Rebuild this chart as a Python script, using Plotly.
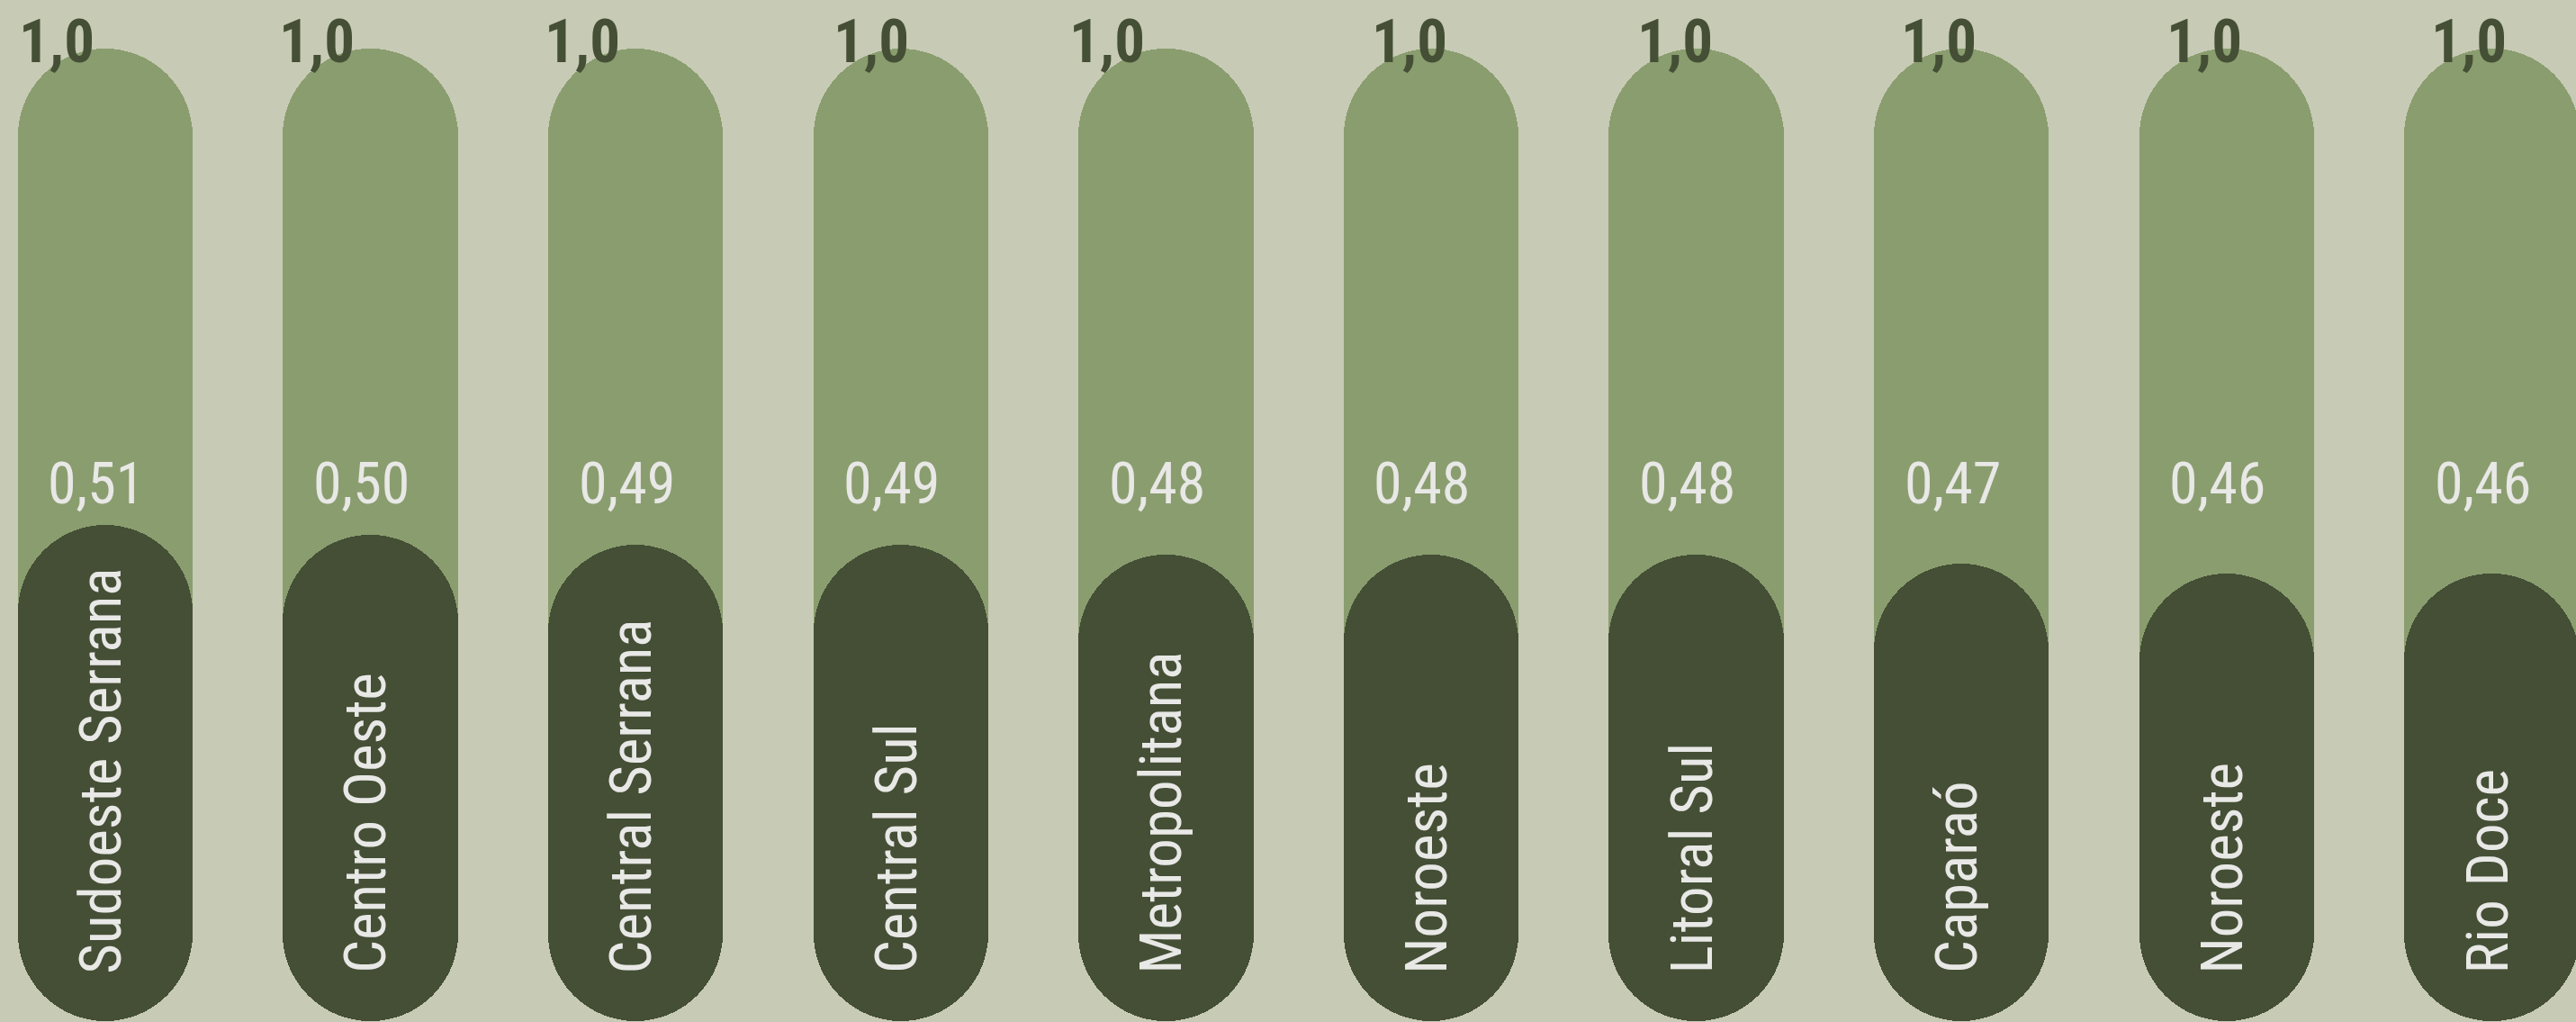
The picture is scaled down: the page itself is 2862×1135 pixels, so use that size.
import plotly.graph_objects as go

# ---- data ----
regions = ["Sudoeste Serrana", "Centro Oeste", "Central Serrana", "Central Sul",
           "Metropolitana", "Noroeste", "Litoral Sul", "Caparaó", "Noroeste", "Rio Doce"]
values = [0.51, 0.50, 0.49, 0.49, 0.48, 0.48, 0.48, 0.47, 0.46, 0.46]
max_value = 1.0

# ---- style ----
BG = "#c7cab4"
LIGHT = "#8a9d6f"
DARK = "#444f35"
TXT_LIGHT = "#e8e8e6"
FONT = "Roboto Condensed, DejaVu Sans Condensed, Roboto, sans-serif"
BAR_W = 0.66
max_label_xshift = [-54, -60, -59, -33, -65, -24, -24, -25, -25, -25]

xs = list(range(len(regions)))
fig = go.Figure()

# full-scale track pill, then the value pill on top (bars with a base get both ends rounded)
for top, color in [([max_value] * len(xs), LIGHT), (values, DARK)]:
    fig.add_trace(go.Bar(x=xs, y=top, base=[0] * len(xs), width=BAR_W,
                         marker=dict(color=color, line=dict(width=0), cornerradius="50%"),
                         hoverinfo="skip", showlegend=False))

annotations = []
for i, (name, v) in enumerate(zip(regions, values)):
    annotations.append(dict(x=i, y=max_value + 0.0074, xref="x", yref="y",
                            text=f"{max_value:.1f}".replace(".", ","), showarrow=False,
                            xanchor="center", yanchor="middle", xshift=max_label_xshift[i],
                            font=dict(family=FONT, size=67, color=DARK, weight="bold")))
    annotations.append(dict(x=i, y=0.552, xref="x", yref="y",
                            text=f"{v:.2f}".replace(".", ","), showarrow=False,
                            xanchor="center", yanchor="middle", xshift=-10,
                            font=dict(family=FONT, size=64, color=TXT_LIGHT)))
    annotations.append(dict(x=i, y=0.047, xref="x", yref="y",
                            text=name, showarrow=False, textangle=-90,
                            xanchor="center", yanchor="bottom", xshift=-5,
                            font=dict(family=FONT, size=65, color=TXT_LIGHT)))

fig.update_layout(
    width=2862, height=1135,
    margin=dict(l=0, r=0, t=0, b=0),
    paper_bgcolor=BG, plot_bgcolor=BG,
    barmode="overlay", bargap=0,
    xaxis=dict(range=[-0.397, 9.3177], visible=False, fixedrange=True),
    yaxis=dict(range=[-0.00093, 1.05], visible=False, fixedrange=True),
    annotations=annotations,
    showlegend=False,
)

fig.write_html("out.html", config={"displayModeBar": False})
